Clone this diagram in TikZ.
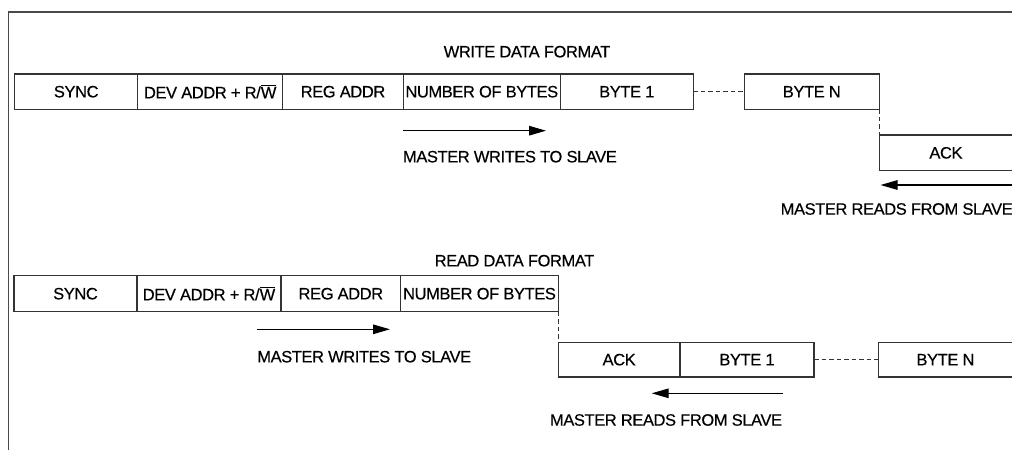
\documentclass[tikz,border=0pt]{standalone}
\usepackage{fontspec}
\setmainfont{Liberation Sans}
\newfontfamily\labfont{Liberation Sans}[FakeBold=0.35,LetterSpace=-2.5]
\usetikzlibrary{arrows.meta}
\definecolor{ln}{HTML}{333333}
\definecolor{fr}{HTML}{4A4A4A}
\begin{document}
\begin{tikzpicture}[x=1pt,y=-1pt,
  every node/.style={inner sep=0pt,outer sep=0pt,font=\labfont\fontsize{16.5}{19}\selectfont,text=black},
  cell/.style={draw=ln,line width=1.1pt,rectangle,minimum height=#1},
  cell/.default=35.5pt,
  lbl/.style={anchor=west},
  flow/.style={draw=black,line width=1.3pt,-{Triangle[length=17pt,width=9.5pt]}},
  dots/.style={draw=ln,line width=0.9pt,dash pattern=on 4.5pt off 3pt}]
\useasboundingbox (0,0) rectangle (1012,450);
\clip (0,0) rectangle (1012,450);
% frame
\draw[fr,line width=1.5pt] (8.5,450) -- (8.5,12) -- (1013,12);
% ---------- write data format ----------
\node (wtitle) at (527,51.7) {WRITE DATA FORMAT};
\node[cell,minimum width=123pt]   (wsync) at (76.2,91.7)  {SYNC};
\node[cell,minimum width=145pt]   (wdev)  at (210.2,91.7) {DEV ADDR + R/$\overline{\mbox{W}}$};
\node[cell,minimum width=120.6pt] (wreg)  at (343,91.7)   {REG ADDR};
\node[cell,minimum width=157pt]   (wnum)  at (481.8,91.7) {NUMBER OF BYTES};
\node[cell,minimum width=133pt]   (wb1)   at (626.8,91.7) {BYTE 1};
\node[cell,minimum width=135pt]   (wbn)   at (811.8,91.7) {BYTE N};
\node[cell=35.7pt,minimum width=133.3pt] (wack) at (945.95,152.85) {ACK};
\draw[dots] (wb1.east) -- (wbn.west);
\draw[dots] (wbn.south east) -- (wack.north west);
\coordinate (wa1) at (403,130.7);
\coordinate (wa2) at (546,130.7);
\draw[flow] (wa1) -- (wa2);
\node[lbl] (wtxt1) at (403,156.7) {MASTER WRITES TO SLAVE};
\coordinate (wr1) at (1020,185);
\coordinate (wr2) at (880.5,185);
\draw[flow] (wr1) -- (wr2);
\node[lbl] (wtxt2) at (780.7,209) {MASTER READS FROM SLAVE};
% ---------- read data format ----------
\node (rtitle) at (514.5,260.7) {READ DATA FORMAT};
\node[cell=36pt,minimum width=123pt]   (rsync) at (75.5,293.7)   {SYNC};
\node[cell=36pt,minimum width=144pt]   (rdev)  at (209,293.7)    {DEV ADDR + R/$\overline{\mbox{W}}$};
\node[cell=36pt,minimum width=119.7pt] (rreg)  at (340.85,293.7) {REG ADDR};
\node[cell=36pt,minimum width=157.6pt] (rnum)  at (479.5,293.7)  {NUMBER OF BYTES};
\node[cell=34.7pt,minimum width=121.7pt] (rack) at (619.15,359.65) {ACK};
\node[cell=34.7pt,minimum width=134pt]   (rb1)  at (747,359.65)    {BYTE 1};
\node[cell=34.7pt,minimum width=134.3pt] (rbn)  at (945.45,359.65) {BYTE N};
\draw[dots] (rnum.south east) -- (rack.north west);
\draw[dots] (rb1.east) -- (rbn.west);
\coordinate (ra1) at (257.3,329.3);
\coordinate (ra2) at (390,329.3);
\draw[flow] (ra1) -- (ra2);
\node[lbl] (rtxt1) at (257.3,356.7) {MASTER WRITES TO SLAVE};
\coordinate (rr1) at (782.7,393.3);
\coordinate (rr2) at (651.7,393.3);
\draw[flow] (rr1) -- (rr2);
\node[lbl] (rtxt2) at (550,420) {MASTER READS FROM SLAVE};
\end{tikzpicture}
\end{document}
